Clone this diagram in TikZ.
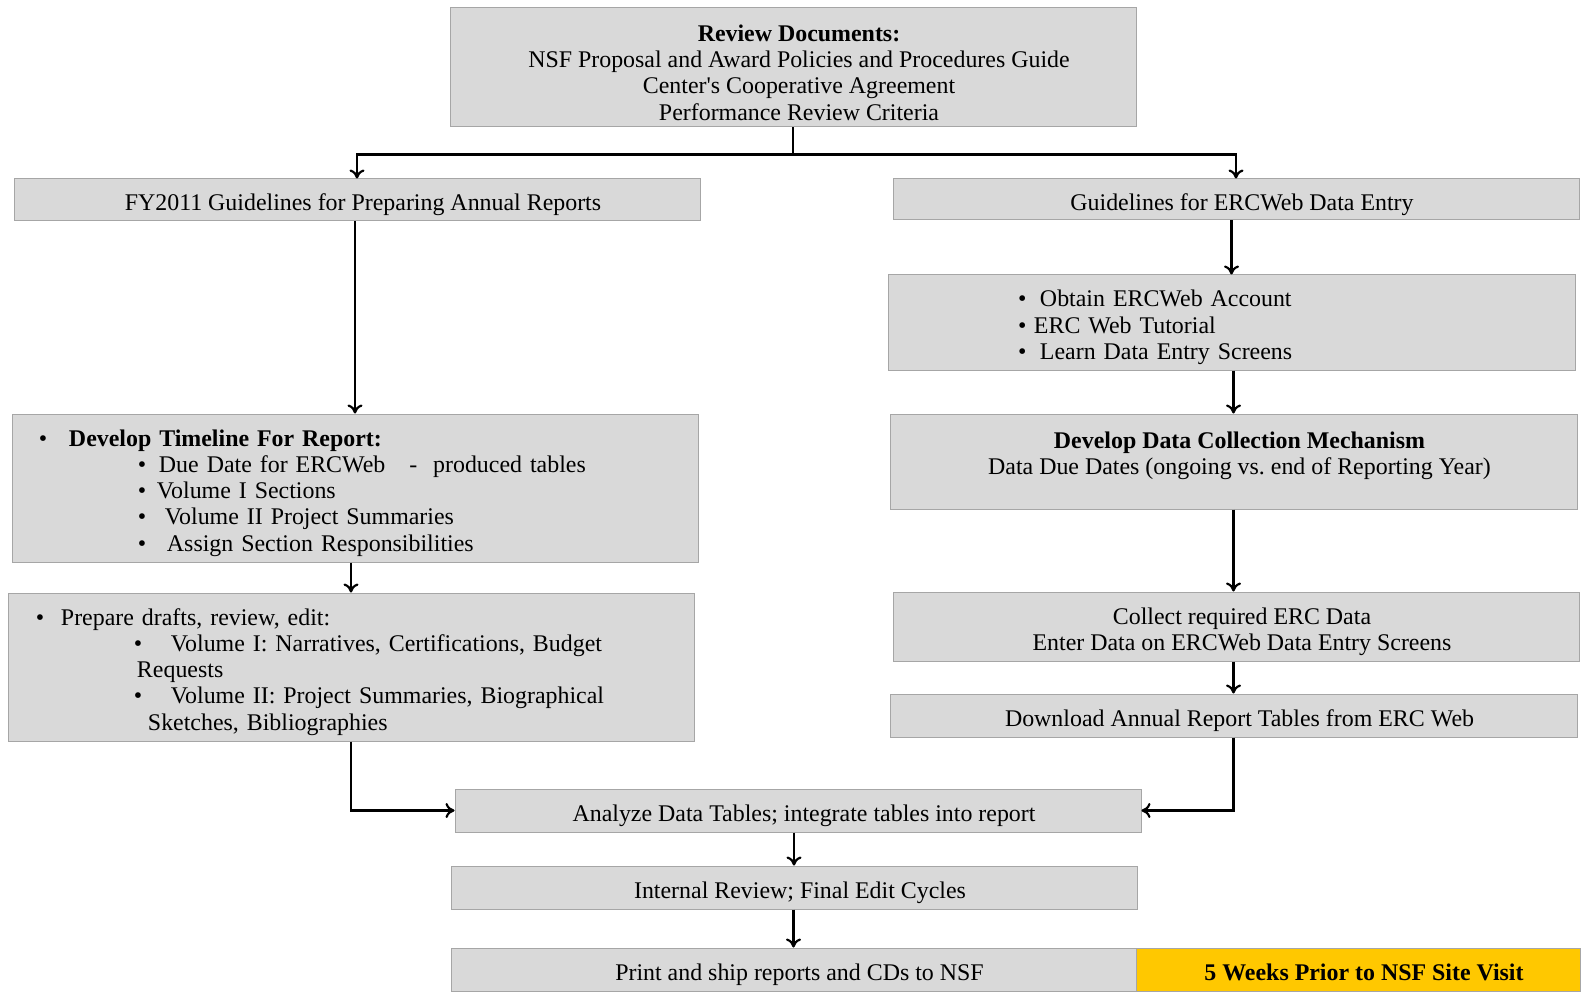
\documentclass[tikz,border=0pt]{standalone}
\usepackage{fontspec}
\setmainfont{Liberation Serif}
\usetikzlibrary{arrows.meta}

\definecolor{boxgray}{HTML}{D9D9D9}
\definecolor{edgegray}{HTML}{A6A6A6}
\definecolor{deadline}{HTML}{FFC800}

\newcommand{\bitem}[3]{\hspace*{#1}\makebox[#2][l]{\textbullet}#3}
\newcommand{\firstline}{\rule[-5.2pt]{0pt}{31.7pt}}

\tikzset{
  box/.style={draw=edgegray,fill=boxgray,line width=1pt,inner sep=0pt,
    minimum width=686pt,text width=686pt,font=\fontsize{23.9}{26.3}\selectfont\frenchspacing,
    align=left,execute at begin node=\firstline},
  ctr/.style={align=flush center,
    execute at begin node={\leftskip=12pt plus 1fil\relax\firstline}},
  flow/.style={line width=2.2pt,-{To[length=9pt,width=15pt]}}
}

\begin{document}
\begin{tikzpicture}[x=1pt,y=-1pt]
          \useasboundingbox (0,0) rectangle (1585,992);
          \node[box,ctr,minimum height=119pt] (review) at (793,67.5)
            {\textbf{Review Documents:}\\NSF Proposal and Award Policies and Procedures Guide\\Center\textquotesingle s Cooperative Agreement\\Performance Review Criteria};
          \node[box,ctr,minimum height=42pt] (fy) at (357,200) {FY2011 Guidelines for Preparing Annual Reports};
          \node[box,ctr,minimum height=41pt] (gl) at (1236,199.5) {Guidelines for ERCWeb Data Entry};
          \node[box,minimum height=95pt,text width=687pt] (account) at (1231.5,322.5)
            {\bitem{130pt}{22pt}{Obtain ERCWeb Account}\\
             \bitem{130pt}{16pt}{ERC Web Tutorial}\\
             \bitem{130pt}{22pt}{Learn Data Entry Screens}};
          \node[box,minimum height=148pt] (timeline) at (355,488)
            {\bitem{27pt}{30pt}{\textbf{Develop Timeline For Report:}}\\
             \bitem{126pt}{21pt}{Due Date for ERCWeb~~~-~~produced tables}\\
             \bitem{126pt}{19pt}{Volume I Sections}\\
             \bitem{126pt}{27pt}{Volume II Project Summaries}\\
             \bitem{126pt}{29pt}{Assign Section Responsibilities}};
          \node[box,ctr,minimum height=95pt,text width=687pt] (mech) at (1233.5,461.5)
            {\textbf{Develop Data Collection Mechanism}\\Data Due Dates (ongoing vs. end of Reporting Year)\\~};
          \node[box,minimum height=148pt] (drafts) at (351,667)
            {\bitem{28pt}{25pt}{Prepare drafts, review, edit:}\\
             \bitem{126pt}{37pt}{Volume I: Narratives, Certifications, Budget}\\
             \hspace*{129pt}Requests\\
             \bitem{126pt}{37pt}{Volume II: Project Summaries, Biographical}\\
             \hspace*{140pt}Sketches, Bibliographies};
          \node[box,ctr,minimum height=69pt] (collect) at (1236,626.5)
            {Collect required ERC Data\\Enter Data on ERCWeb Data Entry Screens};
          \node[box,ctr,minimum height=43pt,text width=687pt] (download) at (1233.5,715.5) {Download Annual Report Tables from ERC Web};
          \node[box,ctr,minimum height=43pt] (analyze) at (798,810.5) {Analyze Data Tables; integrate tables into report};
          \node[box,ctr,minimum height=43pt] (internal) at (794,887.5) {Internal Review; Final Edit Cycles};
          \node[box,ctr,minimum height=43pt,minimum width=685pt,text width=685pt] (print) at (793.5,969.5) {Print and ship reports and CDs to NSF};
          \node[box,ctr,fill=deadline,minimum height=43pt,minimum width=444pt,text width=444pt] (visit) at (1358,969.5) {\textbf{5 Weeks Prior to NSF Site Visit}};
          \draw[line width=2.2pt] (review.south) -- ++(0,27) coordinate (split);
          \draw[flow] (split) -| (fy.north);
          \draw[flow] (split) -| (gl.north);
          \draw[flow] (timeline.north |- fy.south) -- (timeline.north);
          \draw[flow] (drafts.north |- timeline.south) -- (drafts.north);
          \draw[flow] (drafts.south) |- (analyze.west);
          \draw[flow] (account.north |- gl.south) -- (account.north);
          \draw[flow] (mech.north |- account.south) -- (mech.north);
          \draw[flow] (mech.south) -- (mech.south |- collect.north);
          \draw[flow] (download.north |- collect.south) -- (download.north);
          \draw[flow] (download.south) |- (analyze.east);
          \draw[flow] (internal.north |- analyze.south) -- (internal.north);
          \draw[flow] (print.north |- internal.south) -- (print.north);
        \end{tikzpicture}
\end{document}
